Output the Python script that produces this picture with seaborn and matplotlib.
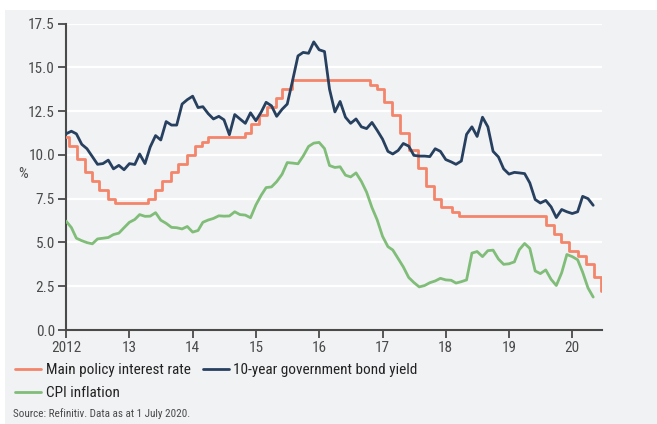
import pandas as pd
import seaborn as sns
import matplotlib.pyplot as plt
from matplotlib.patches import Rectangle
from matplotlib.lines import Line2D

# 10-year government bond yield, monthly Jan 2012 - May 2020 (%)
bond_yield = [
    11.2, 11.35, 11.2, 10.6, 10.35, 9.9, 9.46, 9.5, 9.7, 9.2, 9.4, 9.15,
    9.5, 9.45, 10.05, 9.5, 10.45, 11.1, 10.85, 11.9, 11.7, 11.7, 12.9, 13.15,
    13.35, 12.7, 12.75, 12.35, 12.05, 12.2, 12.0, 11.15, 12.3, 12.05, 11.8, 12.4,
    11.95, 12.45, 13.0, 12.8, 12.2, 12.6, 12.9, 14.25, 15.65, 15.85, 15.8, 16.45,
    16.0, 15.9, 13.75, 12.45, 13.05, 12.15, 11.8, 12.05, 11.6, 11.5, 11.85, 11.4,
    10.9, 10.2, 10.05, 10.25, 10.65, 10.5, 9.97, 9.93, 9.93, 9.9, 10.35, 10.2,
    9.73, 9.6, 9.46, 9.65, 11.17, 11.6, 11.05, 12.15, 11.6, 10.2, 9.88, 9.2,
    8.9, 9.0, 8.97, 8.93, 8.4, 7.45, 7.25, 7.4, 7.03, 6.42, 6.88, 6.75,
    6.65, 6.75, 7.63, 7.5, 7.12,
]

# CPI inflation, monthly Jan 2012 - May 2020 (%)
cpi = [
    6.22, 5.85, 5.24, 5.10, 4.99, 4.92, 5.20, 5.24, 5.28, 5.45, 5.53, 5.84,
    6.15, 6.31, 6.59, 6.49, 6.50, 6.70, 6.27, 6.09, 5.86, 5.84, 5.77, 5.91,
    5.59, 5.68, 6.15, 6.28, 6.37, 6.52, 6.50, 6.51, 6.75, 6.59, 6.56, 6.41,
    7.14, 7.70, 8.13, 8.17, 8.47, 8.89, 9.56, 9.53, 9.49, 9.93, 10.48, 10.67,
    10.71, 10.36, 9.39, 9.28, 9.32, 8.84, 8.74, 8.97, 8.48, 7.87, 6.99, 6.29,
    5.35, 4.76, 4.57, 4.08, 3.60, 3.00, 2.71, 2.46, 2.54, 2.70, 2.80, 2.95,
    2.86, 2.84, 2.68, 2.76, 2.86, 4.39, 4.48, 4.19, 4.53, 4.56, 4.05, 3.75,
    3.78, 3.89, 4.58, 4.94, 4.66, 3.37, 3.22, 3.43, 2.89, 2.54, 3.27, 4.31,
    4.19, 4.01, 3.30, 2.40, 1.88,
]

# Main policy interest rate: decision dates and new rate (%)
policy_dates = [
    "2012-01-01", "2012-01-18", "2012-03-07", "2012-04-18", "2012-05-30", "2012-07-11",
    "2012-08-29", "2012-10-10", "2013-04-17", "2013-05-29", "2013-07-10", "2013-08-28",
    "2013-10-09", "2013-11-27", "2014-01-15", "2014-02-26", "2014-04-02", "2014-10-29",
    "2014-12-03", "2015-01-21", "2015-03-04", "2015-04-29", "2015-06-03", "2015-07-29",
    "2016-10-19", "2016-11-30", "2017-01-11", "2017-02-22", "2017-04-12", "2017-05-31",
    "2017-07-26", "2017-09-06", "2017-10-25", "2017-12-06", "2018-02-07", "2018-03-21",
    "2019-07-31", "2019-09-18", "2019-10-30", "2019-12-11", "2020-02-05", "2020-03-18",
    "2020-05-06", "2020-06-17",
]
policy_rates = [
    11.00, 10.50, 9.75, 9.00, 8.50, 8.00,
    7.50, 7.25, 7.50, 8.00, 8.50, 9.00,
    9.50, 10.00, 10.50, 10.75, 11.00, 11.25,
    11.75, 12.25, 12.75, 13.25, 13.75, 14.25,
    14.00, 13.75, 13.00, 12.25, 11.25, 10.25,
    9.25, 8.25, 7.50, 7.00, 6.75, 6.50,
    6.00, 5.50, 5.00, 4.50, 4.25, 3.75,
    3.00, 2.25,
]

year_ticks = ["2012", "2013", "2014", "2015", "2016", "2017", "2018", "2019", "2020"]
year_labels = ["2012", "13", "14", "15", "16", "17", "18", "19", "20"]
y_ticks = [0.0, 2.5, 5.0, 7.5, 10.0, 12.5, 15.0, 17.5]

label_policy = "Main policy interest rate"
label_bond = "10-year government bond yield"
label_cpi = "CPI inflation"

c_policy = "#f4856a"
c_bond = "#27405f"
c_cpi = "#80bd78"
bg = "#f1f2f4"
ink = "#4a4a4a"

sns.set_theme(style="white")
# narrow face if one is installed, else Roboto
plt.rcParams["font.family"] = ["Roboto Condensed", "Open Sans Condensed",
                               "Liberation Sans Narrow", "Roboto"]

months = pd.date_range("2012-01-01", periods=len(cpi), freq="MS")
monthly = pd.DataFrame({"date": months, "bond": bond_yield, "cpi": cpi})
policy = pd.DataFrame({"date": pd.to_datetime(policy_dates), "rate": policy_rates})

fig = plt.figure(figsize=(6.57, 4.24), dpi=100)
fig.patch.set_facecolor("white")
fig.patches.append(Rectangle((5 / 657, 0), 1, (424 - 10) / 424, transform=fig.transFigure,
                             facecolor=bg, edgecolor="none", zorder=-10))

ax = fig.add_axes([66 / 657, (424 - 330) / 424, (601.7 - 66) / 657, (330 - 23.5) / 424])
ax.set_facecolor(bg)

lw = 2.0
sns.lineplot(data=policy, x="date", y="rate", ax=ax, color=c_policy, linewidth=lw,
             drawstyle="steps-post", zorder=3)
sns.lineplot(data=monthly, x="date", y="bond", ax=ax, color=c_bond, linewidth=lw, zorder=4)
sns.lineplot(data=monthly, x="date", y="cpi", ax=ax, color=c_cpi, linewidth=lw, zorder=3)

ax.set_ylim(0, 17.5)
ax.set_xlim(pd.Timestamp("2012-01-01"), pd.Timestamp("2020-06-19"))
ax.set_yticks(y_ticks)
ax.set_yticklabels([f"{v:.1f}" for v in y_ticks])
ax.set_xticks(pd.to_datetime(year_ticks))
ax.set_xticklabels(year_labels)
ax.set_xlabel("")
ax.set_ylabel("%", rotation=0, fontsize=11, color=ink, va="center")
ax.yaxis.set_label_coords(-0.08, 0.51)

for v in y_ticks[1:]:
    ax.axhline(v, color="white", linewidth=1.6, zorder=1)

for side in ["top", "right"]:
    ax.spines[side].set_visible(False)
for side in ["left", "bottom"]:
    ax.spines[side].set_color(ink)
    ax.spines[side].set_linewidth(1.5)
ax.tick_params(axis="both", which="major", direction="out", length=6, width=1.3,
               color=ink, labelcolor=ink, labelsize=11, pad=2, bottom=True, left=True)

handles = [
    Line2D([], [], color=c_policy, linewidth=lw),
    Line2D([], [], color=c_cpi, linewidth=lw),
    Line2D([], [], color=c_bond, linewidth=lw),
]
fig.legend(handles, [label_policy, label_cpi, label_bond], ncol=2, loc="upper left",
           bbox_to_anchor=(15 / 657, 1 - 363 / 424), frameon=False, fontsize=11,
           handlelength=1.7, handletextpad=0.3, columnspacing=0.8, labelspacing=0.6,
           borderpad=0, borderaxespad=0, labelcolor="#222222")

fig.text(13 / 657, 1 - 414 / 424, "Source: Refinitiv. Data as at 1 July 2020.",
         fontsize=8, color=ink, va="center", ha="left")

fig.savefig("out.png", dpi=100, facecolor=fig.get_facecolor())
